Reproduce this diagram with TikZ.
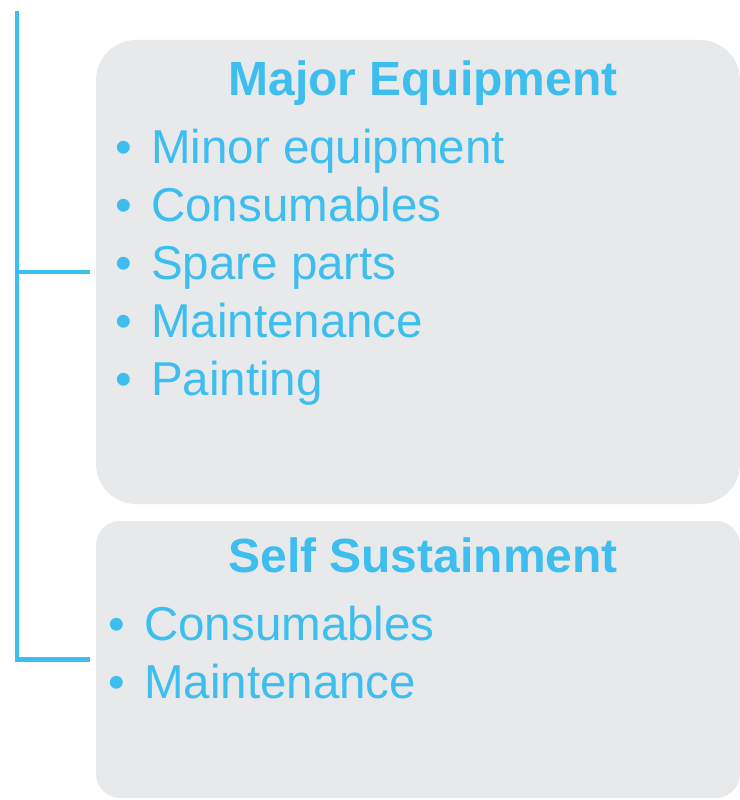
\documentclass[tikz,border=0pt]{standalone}
\usepackage{fontspec}
\setmainfont{Liberation Sans}
\usetikzlibrary{positioning}
\usetikzlibrary{calc}
\definecolor{skyblue}{RGB}{62,190,238}
\definecolor{panelgray}{RGB}{232,233,235}
\newcommand{\bulletitem}[1]{\makebox[36pt][l]{\textbullet}#1}
\newcommand{\itemstep}{58}
\tikzset{
    panel/.style={draw=none, fill=panelgray, rectangle, minimum width=644pt, outer sep=0pt, inner sep=0pt},
    heading/.style={anchor=base, inner sep=0pt, text=skyblue, font=\fontsize{48}{56}\selectfont\bfseries},
    item/.style={anchor=base west, inner sep=0pt, text=skyblue, font=\fontsize{47.5}{56}\selectfont},
    trunk/.style={draw=skyblue, line width=4.8pt, line join=miter},
}
\begin{document}
\begin{tikzpicture}[x=1pt, y=-1pt]
          \useasboundingbox (0,0) rectangle (739,800);

          \node[panel, minimum height=464pt, rounded corners=40pt] (major) at (418,272) {};
          \node[panel, minimum height=277pt, rounded corners=24pt] (self) at (418,659.5) {};

          \node[heading] (major-title) at (423,95) {Major Equipment};
          \node[heading] (self-title) at (423,572) {Self Sustainment};

          \path
              (115,163) node[item] (major-minor) {\bulletitem{Minor equipment}}
              ++(0,\itemstep) node[item] (major-consumables) {\bulletitem{Consumables}}
              ++(0,\itemstep) node[item] (major-spare) {\bulletitem{Spare parts}}
              ++(0,\itemstep) node[item] (major-maintenance) {\bulletitem{Maintenance}}
              ++(0,\itemstep) node[item] (major-painting) {\bulletitem{Painting}};

          \path
              (108,640) node[item] (self-consumables) {\bulletitem{Consumables}}
              ++(0,\itemstep) node[item] (self-maintenance) {\bulletitem{Maintenance}};

          \coordinate (trunk-top) at (17,11);
          \draw[trunk] (trunk-top) |- ([xshift=-6pt]self.west);
          \draw[trunk] (trunk-top |- major.west) -- ([xshift=-6pt]major.west);

      \end{tikzpicture}
\end{document}
